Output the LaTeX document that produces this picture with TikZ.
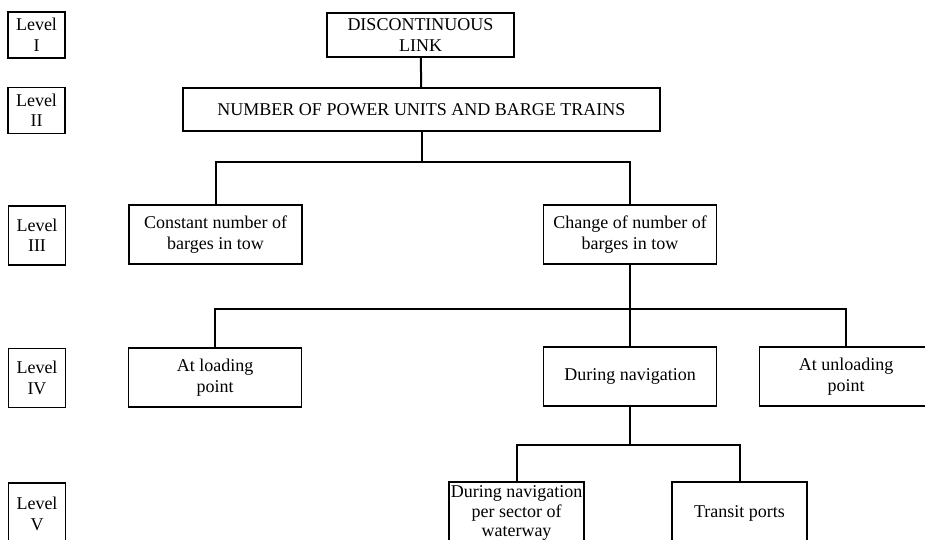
\documentclass[tikz,border=0pt]{standalone}
\usepackage{fontspec}
\setmainfont{Liberation Serif}
\usepackage{tikz}
\usetikzlibrary{positioning}

\begin{document}
\begin{tikzpicture}
			[x=1pt, y=-1pt,
			font=\fontsize{18}{20.5}\selectfont,
			every node/.style={rectangle, draw, line width=1.4pt,
				inner sep=0pt, align=center},
			levelbox/.style={minimum width=57pt},
			treebox/.style={minimum width=173pt, minimum height=59pt},
			lowbox/.style={minimum width=135pt, minimum height=62pt},
			link/.style={draw, line width=2pt},
			]
			\useasboundingbox (0,0) rectangle (925,540);
			\clip (0,0) rectangle (925,540);
			
			% levels
			\node[levelbox, minimum height=46pt] (L1) at (36.5,35) {Level\\I};
			\node[levelbox, minimum height=46pt] (L2) at (36.5,110.5) {Level\\II};
			\node[levelbox, minimum height=59pt] (L3) at (37,235.5) {Level\\III};
			\node[levelbox, minimum height=59pt] (L4) at (37,378) {Level\\IV};
			\node[levelbox, minimum height=62pt] (L5) at (37,514) {Level\\V};
			
			% tree
			\node[minimum width=187pt, minimum height=44pt] (A) at (420.5,35) {DISCONTINUOUS\\LINK};
			\node[minimum width=477pt, minimum height=43pt] (B) at (421.5,109.5) {NUMBER OF POWER UNITS AND BARGE TRAINS};
			\node[treebox] (C) at (215.5,234.5) {Constant number of\\barges in tow};
			\node[treebox] (D) at (630,234.5) {Change of number of\\barges in tow};
			\node[treebox] (E) at (215,377.5) {At loading\\point};
			\node[treebox] (F) at (630,376.5) {During navigation};
			\node[treebox] (G) at (846,376.5) {At unloading\\point};
			\node[lowbox, font=\fontsize{18}{19.5}\selectfont] (H) at (516.5,513) {During navigation\\per sector of\\waterway};
			\node[lowbox] (I) at (739.5,513) {Transit ports};
			
			\draw[link] (A) -- (B);
			\draw[link] (B.south) -- ++(0,30) coordinate (b1) -| (C.north);
			\draw[link] (b1) -| (D.north);
			\draw[link] (D.south) -- ++(0,44) coordinate (d1) -| (E.north);
			\draw[link] (d1) -| (G.north);
			\draw[link] (d1) -- (F.north);
			\draw[link] (F.south) -- ++(0,38) coordinate (f1) -| (H.north);
			\draw[link] (f1) -| (I.north);
			
		\end{tikzpicture}
\end{document}
